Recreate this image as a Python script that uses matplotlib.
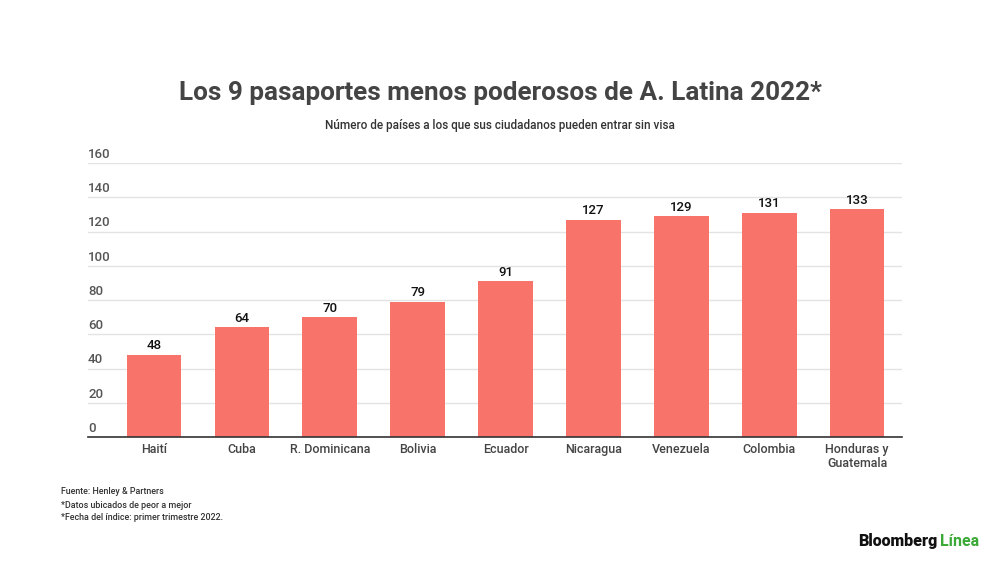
import matplotlib
matplotlib.use('Agg')
import matplotlib.pyplot as plt

plt.rcParams['font.family'] = ['Roboto', 'DejaVu Sans']

paises = ['Haití', 'Cuba', 'R. Dominicana', 'Bolivia', 'Ecuador', 'Nicaragua',
          'Venezuela', 'Colombia', 'Honduras y\nGuatemala']
sin_visa = [48, 64, 70, 79, 91, 127, 129, 131, 133]
yticks = [0, 20, 40, 60, 80, 100, 120, 140, 160]

fig = plt.figure(figsize=(10, 5.62), dpi=100)
ax = fig.add_axes([0.088, 0.2224, 0.814, 0.4875])

x = list(range(len(paises)))
ax.bar(x, sin_visa, width=0.62, color='#F8736A', zorder=3)
for xi, v in zip(x, sin_visa):
    ax.text(xi, v + 1.5, str(v), ha='center', va='bottom', fontsize=9.5,
            fontweight='medium', color='#111111', zorder=4)

ax.set_xlim(-0.75, 8.51)
ax.set_ylim(0, 160)
ax.set_yticks(yticks)
ax.set_yticklabels([])
ax.tick_params(axis='both', length=0)
ax.grid(axis='y', color='#e3e3e3', linewidth=1, zorder=0)
for s in ['top', 'right', 'left']:
    ax.spines[s].set_visible(False)
ax.spines['bottom'].set_color('#333333')
ax.spines['bottom'].set_linewidth(1.2)
ax.spines['bottom'].set_zorder(5)

for t in yticks:
    ax.text(-0.75, t + 1.2, str(t), ha='left', va='bottom', fontsize=9.5,
            fontweight='medium', color='#555555')

ax.set_xticks(x)
ax.set_xticklabels(paises, fontsize=9, fontweight='medium', color='#444444', linespacing=1.1)
ax.tick_params(axis='x', pad=4)

fig.text(0.5, 0.835, 'Los 9 pasaportes menos poderosos de A. Latina 2022*', ha='center', va='center',
         fontsize=18.8, fontweight='bold', color='#444444')
fig.text(0.5, 0.776, 'Número de países a los que sus ciudadanos pueden entrar sin visa', ha='center', va='center',
         fontsize=8.5, fontweight='medium', color='#333333')

footer = ['Fuente: Henley & Partners', '*Datos ubicados de peor a mejor',
          '*Fecha del índice: primer trimestre 2022.']
for i, line in enumerate(footer):
    fig.text(0.061, 1 - (492 + 13 * i) / 562, line, ha='left', va='center', fontsize=6.4,
             fontweight='medium', color='#333333')

fig.text(0.858, 1 - 541 / 562, 'Bloomberg', ha='left', va='center', fontsize=11.5,
         fontweight='black', color='#111111')
fig.text(0.940, 1 - 541 / 562, 'Línea', ha='left', va='center', fontsize=11.5,
         fontweight='bold', color='#3aa935')

fig.savefig('out.png', dpi=100, facecolor='white')
